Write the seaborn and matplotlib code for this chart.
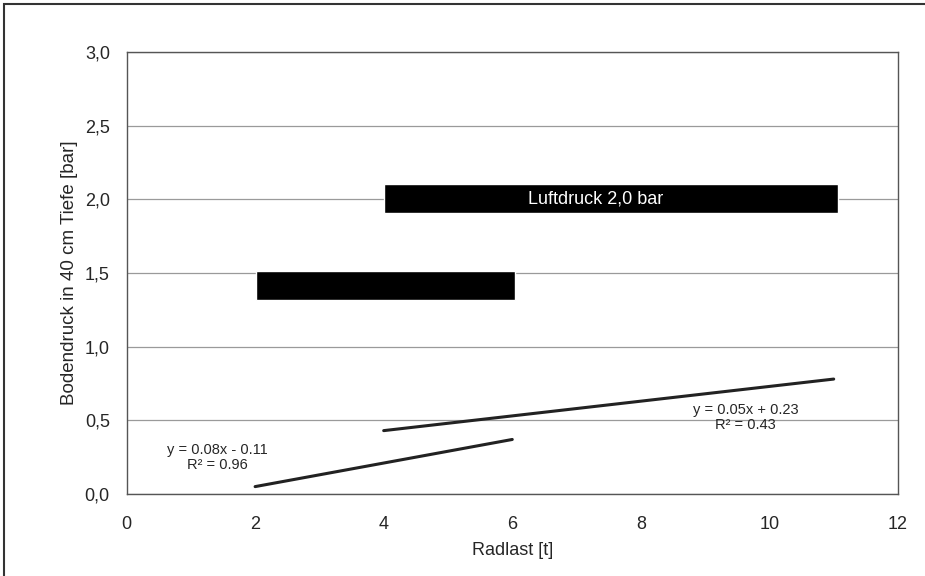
import pandas as pd
import seaborn as sb
import matplotlib.pyplot as plt
from matplotlib.ticker import FuncFormatter
from matplotlib.patches import Rectangle

# Trendlinien (Anfangs- und Endpunkt)
radlast_a = [2.0, 6.0]
druck_a = [0.05, 0.37]
radlast_b = [4.0, 11.0]
druck_b = [0.43, 0.78]

# schwarze Balken (geschwärzte Beschriftungen)
balken_y = [2.005, 1.415]
balken_links = [4.0, 2.02]
balken_breite = [7.07, 4.03]
balken_text = ['Luftdruck 2,0 bar', '']
text_x = [7.3, 0]

gleichung_a = 'y = 0.08x - 0.11\nR² = 0.96'
gleichung_b = 'y = 0.05x + 0.23\nR² = 0.43'

sb.set_style('white')
plt.rcParams['font.family'] = ['Liberation Sans', 'DejaVu Sans']

fig = plt.figure(figsize=(9.25, 5.76), dpi=100)
ax = fig.add_axes([0.1368, 0.1424, 0.8340, 0.7673])

df = pd.concat([
    pd.DataFrame({'x': radlast_a, 'y': druck_a, 'serie': 'a'}),
    pd.DataFrame({'x': radlast_b, 'y': druck_b, 'serie': 'b'}),
])
sb.lineplot(data=df, x='x', y='y', units='serie', estimator=None,
            color='#222222', linewidth=2.2, ax=ax, zorder=3)

ax.barh(balken_y, balken_breite, left=balken_links, height=0.2,
        color='black', zorder=4)
for y, tx, t in zip(balken_y, text_x, balken_text):
    if t:
        ax.text(tx, y, t, color='white', ha='center', va='center',
                fontsize=13, zorder=5)

ax.text(1.42, 0.25, gleichung_a, ha='center', va='center', fontsize=10.5,
        linespacing=1.1, zorder=5)
ax.text(9.63, 0.52, gleichung_b, ha='center', va='center', fontsize=10.5,
        linespacing=1.1, zorder=5)

ax.set_xlim(0, 12)
ax.set_ylim(0, 3)
ax.set_xticks(range(0, 13, 2))
ax.set_yticks([0, 0.5, 1.0, 1.5, 2.0, 2.5, 3.0])
ax.yaxis.set_major_formatter(FuncFormatter(lambda v, p: f'{v:.1f}'.replace('.', ',')))
ax.grid(axis='y', color='#9a9a9a', linewidth=0.9)
ax.set_axisbelow(True)
for s in ax.spines.values():
    s.set_color('#555555')
    s.set_linewidth(1.0)
ax.tick_params(axis='both', which='major', length=5, width=1, color='#555555',
               labelsize=13, direction='out')
ax.tick_params(axis='x', pad=11)
ax.tick_params(axis='y', pad=7)

ax.set_xlabel('Radlast [t]', fontsize=13, labelpad=6)
ax.set_ylabel('Bodendruck in 40 cm Tiefe [bar]', fontsize=13.5, labelpad=5)

# Rahmen um die Abbildung
fig.patches.append(Rectangle((4 / 925, -0.1), 1.2, 1 - 4 / 576 + 0.1,
                             transform=fig.transFigure, fill=False,
                             edgecolor='#333333', linewidth=1.5))

fig.savefig('out.png', dpi=100)
plt.close()
